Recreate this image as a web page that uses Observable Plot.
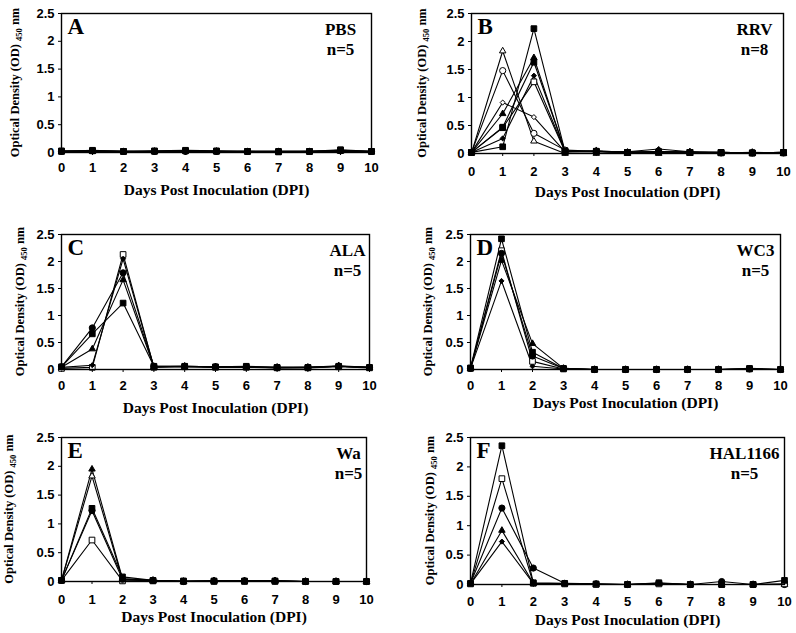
<!DOCTYPE html>
<html><head><meta charset="utf-8">
<script src="https://cdn.jsdelivr.net/npm/d3@7"></script>
<script src="https://cdn.jsdelivr.net/npm/@observablehq/plot@0.6"></script>
<style>
html,body{margin:0;padding:0;background:#fff;width:796px;height:633px;overflow:hidden;}
#chart{position:relative;width:796px;height:633px;}
.panel{position:absolute;}
</style></head><body><div id="chart"></div>
<script>
// ---- data ----
const days = [0, 1, 2, 3, 4, 5, 6, 7, 8, 9, 10];
const xTicks = [0, 1, 2, 3, 4, 5, 6, 7, 8, 9, 10];
const yTicks = [0, 0.5, 1, 1.5, 2, 2.5];
const yTickLabels = ["0", "0.5", "1", "1.5", "2", "2.5"];
const xTitle = "Days Post Inoculation (DPI)";
const yTitleMain = "Optical Density (OD) ";
const yTitleSub = "450";
const yTitleEnd = " nm";

const panelLetters = ["A", "B", "C", "D", "E", "F"];
const groupNames = ["PBS", "RRV", "ALA", "WC3", "Wa", "HAL1166"];
const groupSizes = [5, 8, 5, 5, 5, 5];

// A: PBS
const pbsMarkers = ["circle-filled", "triangle-filled", "diamond2-filled", "square-filled", "square-filled"];
const pbsValues = [
  [0.02, 0.03, 0.02, 0.02, 0.02, 0.02, 0.02, 0.02, 0.02, 0.03, 0.02],
  [0.01, 0.02, 0.01, 0.02, 0.03, 0.02, 0.01, 0.01, 0.01, 0.02, 0.01],
  [0.02, 0.02, 0.02, 0.01, 0.02, 0.01, 0.02, 0.02, 0.02, 0.02, 0.01],
  [0.03, 0.03, 0.02, 0.03, 0.04, 0.03, 0.02, 0.02, 0.02, 0.05, 0.02],
  [0.02, 0.04, 0.02, 0.02, 0.03, 0.02, 0.02, 0.01, 0.02, 0.04, 0.02]
];
// B: RRV
const rrvMarkers = ["triangle-open", "circle-open", "diamond2-open", "square-open", "triangle-filled", "diamond2-filled", "square-filled", "square-filled"];
const rrvValues = [
  [0.01, 1.83, 0.22, 0.00, 0.00, 0.00, 0.00, 0.00, 0.00, 0.00, 0.00],
  [0.02, 1.48, 0.36, 0.06, 0.04, 0.02, 0.02, 0.02, 0.01, 0.01, 0.01],
  [0.02, 0.91, 0.65, 0.03, 0.03, 0.02, 0.03, 0.02, 0.01, 0.01, 0.01],
  [0.02, 0.46, 1.28, 0.03, 0.03, 0.02, 0.02, 0.02, 0.01, 0.01, 0.01],
  [0.02, 0.71, 1.71, 0.03, 0.05, 0.02, 0.03, 0.03, 0.01, 0.02, 0.01],
  [0.02, 0.27, 1.39, 0.04, 0.04, 0.03, 0.08, 0.03, 0.02, 0.01, 0.02],
  [0.02, 0.47, 1.63, 0.05, 0.04, 0.02, 0.03, 0.02, 0.02, 0.01, 0.02],
  [0.02, 0.12, 2.23, 0.03, 0.04, 0.02, 0.03, 0.02, 0.02, 0.01, 0.02]
];
// C: ALA
const alaMarkers = ["square-open", "diamond2-filled", "triangle-filled", "circle-filled", "square-filled"];
const alaValues = [
  [0.02, 0.04, 2.13, 0.04, 0.05, 0.04, 0.04, 0.03, 0.03, 0.05, 0.03],
  [0.04, 0.08, 2.05, 0.05, 0.05, 0.04, 0.05, 0.03, 0.04, 0.06, 0.04],
  [0.04, 0.38, 1.66, 0.05, 0.06, 0.05, 0.05, 0.04, 0.04, 0.07, 0.04],
  [0.05, 0.77, 1.79, 0.06, 0.06, 0.05, 0.05, 0.04, 0.04, 0.06, 0.04],
  [0.05, 0.66, 1.23, 0.06, 0.06, 0.05, 0.06, 0.04, 0.04, 0.06, 0.04]
];
// D: WC3
const wc3Markers = ["diamond2-filled", "square-open", "triangle-filled", "circle-filled", "square-filled"];
const wc3Values = [
  [0.02, 1.64, 0.06, 0.01, 0.00, 0.00, 0.00, 0.00, 0.00, 0.01, 0.00],
  [0.02, 2.20, 0.15, 0.01, 0.00, 0.00, 0.00, 0.00, 0.00, 0.01, 0.00],
  [0.02, 2.02, 0.48, 0.02, 0.00, 0.00, 0.00, 0.00, 0.00, 0.01, 0.00],
  [0.02, 2.15, 0.25, 0.02, 0.00, 0.00, 0.00, 0.00, 0.00, 0.01, 0.00],
  [0.03, 2.42, 0.32, 0.02, 0.00, 0.00, 0.00, 0.00, 0.00, 0.02, 0.00]
];
// E: Wa
const waMarkers = ["square-open", "triangle-open", "circle-filled", "triangle-filled", "square-filled"];
const waValues = [
  [0.02, 0.72, 0.01, 0.01, 0.00, 0.00, 0.00, 0.00, 0.00, 0.00, 0.00],
  [0.02, 1.83, 0.03, 0.01, 0.00, 0.01, 0.01, 0.01, 0.00, 0.00, 0.00],
  [0.02, 1.23, 0.04, 0.02, 0.00, 0.01, 0.01, 0.01, 0.00, 0.00, 0.00],
  [0.02, 1.95, 0.05, 0.02, 0.00, 0.01, 0.01, 0.01, 0.00, 0.00, 0.00],
  [0.02, 1.27, 0.08, 0.02, 0.01, 0.01, 0.01, 0.01, 0.00, 0.00, 0.00]
];
// F: HAL1166
const halMarkers = ["diamond2-filled", "triangle-filled", "circle-filled", "square-open", "square-filled"];
const halValues = [
  [0.01, 0.73, 0.02, 0.01, 0.00, 0.00, 0.01, 0.00, 0.00, 0.00, 0.00],
  [0.01, 0.92, 0.02, 0.01, 0.00, 0.00, 0.01, 0.00, 0.00, 0.00, 0.00],
  [0.02, 1.30, 0.28, 0.02, 0.01, 0.00, 0.02, 0.00, 0.05, 0.00, 0.00],
  [0.01, 1.80, 0.02, 0.01, 0.00, 0.00, 0.01, 0.00, 0.00, 0.00, 0.01],
  [0.02, 2.36, 0.03, 0.02, 0.01, 0.00, 0.03, 0.00, 0.00, 0.00, 0.07]
];

const panelValues = [pbsValues, rrvValues, alaValues, wc3Values, waValues, halValues];
const panelMarkers = [pbsMarkers, rrvMarkers, alaMarkers, wc3Markers, waMarkers, halMarkers];

// ---- layout (frame position in page px) and marker sizes ----
const layout = [
  {left: 61,  top: 13,  w: 310, h: 139, tickPad: 7,  xTitleDy: 38, yTitleDx: 46, labelDx: 31},
  {left: 471, top: 13,  w: 312, h: 140, tickPad: 10, xTitleDy: 39, yTitleDx: 49, labelDx: 29},
  {left: 61,  top: 234, w: 308, h: 135, tickPad: 8,  xTitleDy: 39, yTitleDx: 41, labelDx: 22},
  {left: 470, top: 234, w: 310, h: 135, tickPad: 8,  xTitleDy: 34, yTitleDx: 42, labelDx: 25},
  {left: 61,  top: 437, w: 305, h: 144, tickPad: 10, xTitleDy: 36, yTitleDx: 52, labelDx: 18},
  {left: 470, top: 437, w: 314, h: 147, tickPad: 9,  xTitleDy: 36, yTitleDx: 40, labelDx: 40}
];
const symbolRadius = {square: 3.2, circle: 3.1, triangle: 2.4, diamond2: 2.3};

const serif = "'Liberation Serif', 'Times New Roman', serif";
const sans = "'Liberation Sans', Arial, sans-serif";
const chart = document.getElementById("chart");

panelLetters.forEach((letter, i) => {
  const L = layout[i];
  const values = panelValues[i];
  const markers = panelMarkers[i];
  const rows = [];
  values.forEach((vals, s) => vals.forEach((v, d) => rows.push({series: s, day: days[d], od: v})));
  const mL = 60, mT = 12, mR = 10, mB = 55;

  const dotMarks = markers.map((m, s) => {
    const [shape, kind] = m.split("-");
    return Plot.dot(rows.filter(r => r.series === s), {
      x: "day", y: "od", symbol: shape, r: symbolRadius[shape],
      fill: kind === "filled" ? "black" : "white", stroke: "black", strokeWidth: 1
    });
  });

  const svg = Plot.plot({
    width: mL + L.w + mR,
    height: mT + L.h + mB,
    marginLeft: mL, marginTop: mT, marginRight: mR, marginBottom: mB,
    style: {background: "white", color: "black"},
    x: {domain: [0, 10]},
    y: {domain: [0, 2.5]},
    marks: [
      Plot.axisX({ticks: xTicks, tickSize: 3, tickPadding: L.tickPad, tickFormat: d => String(d), label: null}),
      Plot.axisY({ticks: yTicks, tickSize: 3, tickPadding: 4, tickFormat: d => yTickLabels[yTicks.indexOf(d)], label: null}),
      Plot.line(rows, {x: "day", y: "od", z: "series", stroke: "black", strokeWidth: 1.1}),
      ...dotMarks,
      Plot.frame({stroke: "black", strokeWidth: 1.4}),
      Plot.text([letter], {text: d => d, frameAnchor: "top-left", dx: 6, dy: 4, lineAnchor: "top", textAnchor: "start",
        fontSize: 23, fontWeight: "bold", fontFamily: serif}),
      Plot.text([`${groupNames[i]}\nn=${groupSizes[i]}`], {text: d => d, frameAnchor: "top-right", dx: -L.labelDx, dy: 7,
        lineAnchor: "top", textAnchor: "middle", lineHeight: 1.2, fontSize: 17, fontWeight: "bold", fontFamily: serif}),
      Plot.text([xTitle], {text: d => d, frameAnchor: "bottom", dy: L.xTitleDy, lineAnchor: "middle",
        fontSize: 15.5, fontWeight: "bold", fontFamily: serif})
    ]
  });

  // tick label font: bold Arial-like
  d3.select(svg).selectAll('g[aria-label$="tick label"]')
    .attr("font-family", sans).attr("font-weight", "bold").attr("font-size", 13)
    .style("font-family", sans).style("font-weight", "bold").style("font-size", "13px");

  const t = d3.select(svg).append("text")
    .attr("transform", `translate(${mL - L.yTitleDx},${mT + L.h / 2}) rotate(-90)`)
    .attr("text-anchor", "middle")
    .attr("dy", "0.35em")
    .attr("font-family", serif).attr("font-weight", "bold").attr("font-size", 12.5)
    .attr("fill", "black");
  t.append("tspan").text(yTitleMain);
  t.append("tspan").attr("font-size", 8.5).attr("dy", 3).text(yTitleSub);
  t.append("tspan").attr("dy", -3).text(yTitleEnd);

  const div = document.createElement("div");
  div.className = "panel";
  div.style.left = (L.left - mL) + "px";
  div.style.top = (L.top - mT) + "px";
  div.appendChild(svg);
  chart.appendChild(div);
});
</script></body></html>
